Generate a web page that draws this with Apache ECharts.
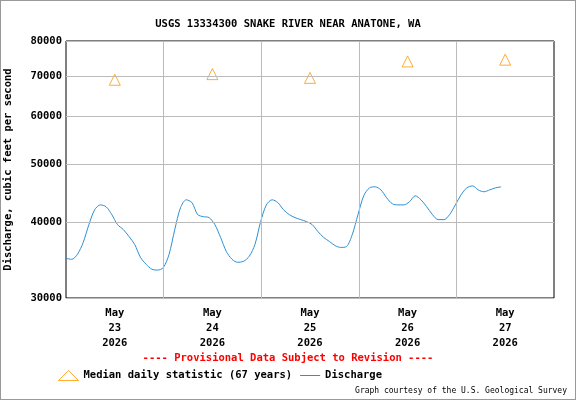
<!DOCTYPE html>
<html><head><meta charset="utf-8">
<script src="https://cdn.jsdelivr.net/npm/echarts@6/dist/echarts.min.js"></script>
<style>html,body{margin:0;padding:0;background:#fff}#c{width:576px;height:400px;box-sizing:border-box;border:1px solid #999}</style>
</head><body><div id="c"></div>
<script>
const title = 'USGS 13334300 SNAKE RIVER NEAR ANATONE, WA';
const yTicks = [30000, 40000, 50000, 60000, 70000, 80000];
const dayStarts = ['2026-05-23','2026-05-24','2026-05-25','2026-05-26','2026-05-27','2026-05-28'];
const medianDays = ['2026-05-23','2026-05-24','2026-05-25','2026-05-26','2026-05-27'];
const medianValues = [69000, 70500, 69500, 74000, 74500];
const dischargeStart = '2026-05-23T00:00:00Z';
const dischargeEnd = '2026-05-27T11:00:00Z';
const dischargeValues = [34900,34770,35440,37090,39700,42000,42800,42500,41240,39700,38960,37940,36800,35040,34120,33480,33370,33700,
35440,38960,42340,43640,43170,41240,40920,40770,39700,37800,35840,34770,34380,34500,35170,36800,
40160,42800,43640,43170,42000,41240,40770,40460,40160,39700,38660,37800,37230,36640,36390,36510,
38220,41240,44310,45670,45850,45320,43980,42980,42800,42800,43320,44310,43640,42500,41240,40460,40460,41240,42800,44480,45670,46020,45320,45000,45320,45670,45850];

const t0 = Date.parse(dischargeStart), t1 = Date.parse(dischargeEnd);
const step = (t1 - t0) / (dischargeValues.length - 1);
const discharge = dischargeValues.map((v, i) => [t0 + i * step, v]);
const medians = medianDays.map((d, i) => [Date.parse(d + 'T12:00:00Z'), medianValues[i]]);
const xmin = Date.parse(dayStarts[0] + 'T00:00:00Z'), xmax = Date.parse(dayStarts[dayStarts.length-1] + 'T00:00:00Z');
const mono = '"DejaVu Sans Mono", monospace';
const chart = echarts.init(document.getElementById('c'));
chart.setOption({
  animation: false,
  title: {text: title, left: 'center', top: 13, textStyle: {fontFamily: mono, fontSize: 10.5, fontWeight: 'bold', color: '#000'}},
  grid: {left: 65, right: 21, top: 40, bottom: 101, containLabel: false, outerBoundsMode: 'none', show: true, borderColor: '#000', borderWidth: 1},
  xAxis: {type: 'value', min: xmin, max: xmax, interval: 43200000,
    axisLine: {show: false}, axisTick: {show: false}, splitLine: {show: false},
    axisLabel: {fontFamily: mono, fontSize: 10.5, fontWeight: 'bold', color: '#000', lineHeight: 15, margin: 8,
      formatter: v => { const d = new Date(v); return d.getUTCHours() === 12 ? 'May\n' + d.getUTCDate() + '\n2026' : ''; }}},
  yAxis: {type: 'log', logBase: 10, min: 30000, max: 80000,
    name: 'Discharge, cubic feet per second', nameLocation: 'middle', nameGap: 52,
    nameTextStyle: {fontFamily: mono, fontSize: 10.5, fontWeight: 'bold', color: '#000'},
    axisLine: {show: false}, axisTick: {show: false}, axisLabel: {show: false}, splitLine: {show: false}},
  legend: {top: 364, left: 52, itemGap: 8, itemWidth: 20, itemHeight: 10,
    textStyle: {fontFamily: mono, fontSize: 10.5, fontWeight: 'bold', color: '#000'},
    data: [{name: 'Median daily statistic (67 years)', icon: 'triangle', itemStyle: {color: '#fff', borderColor: '#f90', borderWidth: 1}},
           {name: 'Discharge', icon: 'path://M0,5L20,5L20,6L0,6Z', itemStyle: {color: '#2b8fd6'}}]},
  graphic: [
    {type: 'text', left: 'center', top: 352, style: {text: '---- Provisional Data Subject to Revision ----', fill: '#f00', font: 'bold 10.5px ' + mono}},
    {type: 'text', right: 8, top: 386, style: {text: 'Graph courtesy of the U.S. Geological Survey', fill: '#000', font: '8px ' + mono}}
  ],
  series: [
    {name: 'grid', type: 'line', data: [], silent: true,
      markLine: {silent: true, symbol: 'none', lineStyle: {color: '#bbb', width: 1, type: 'solid'},
        label: {position: 'start', formatter: p => String(p.value), fontFamily: mono, fontSize: 10.5, fontWeight: 'bold', color: '#000', distance: 4},
        data: yTicks.map(v => ({yAxis: v})).concat(dayStarts.slice(1, -1).map(d => ({xAxis: Date.parse(d + 'T00:00:00Z'), label: {show: false}})))}},
    {name: 'Median daily statistic (67 years)', type: 'scatter', data: medians, symbol: 'triangle', symbolSize: 11,
      itemStyle: {color: '#fff', borderColor: '#f90', borderWidth: 1}},
    {name: 'Discharge', type: 'line', data: discharge, showSymbol: false, symbol: 'none', smooth: 0.3,
      lineStyle: {color: '#2b8fd6', width: 1}, itemStyle: {color: '#2b8fd6'}}
  ]
});
</script></body></html>
